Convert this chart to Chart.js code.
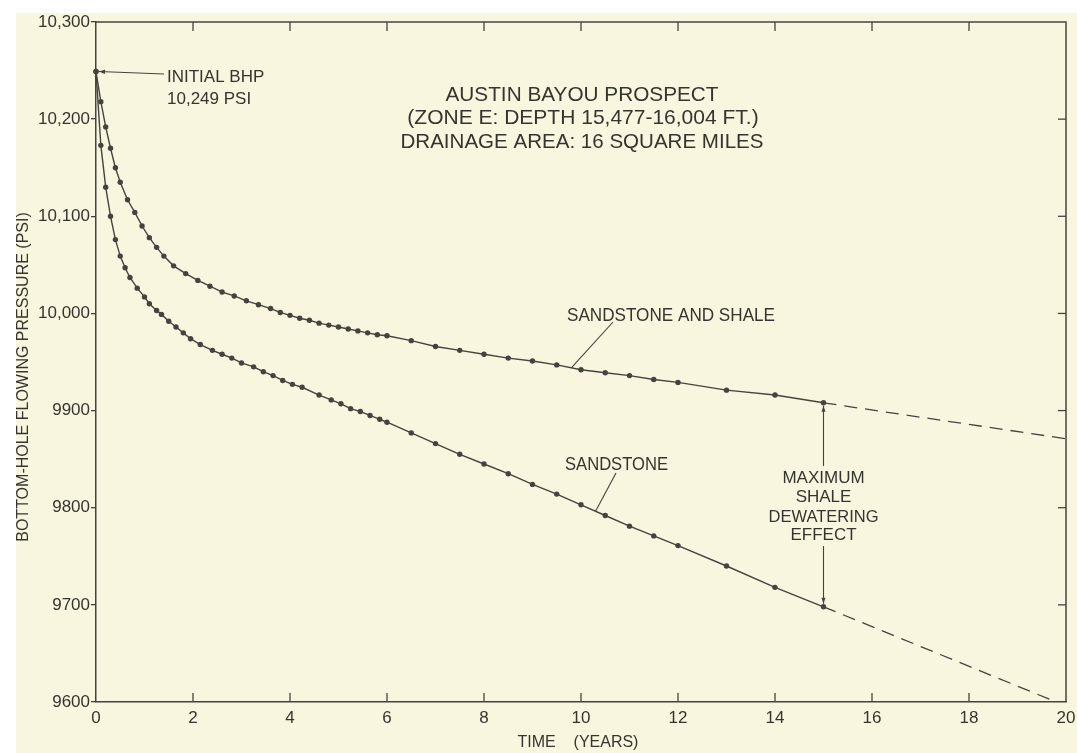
<!DOCTYPE html>
<html><head><meta charset="utf-8">
<script src="https://cdn.jsdelivr.net/npm/chart.js@4/dist/chart.umd.min.js"></script>
<style>html,body{margin:0;padding:0;background:#fff;}canvas{display:block;}</style>
</head><body>
<canvas id="c" width="1077" height="753"></canvas>
<script>
// ---- data ----
const shaleTimes = [0, 0.1, 0.2, 0.3, 0.4, 0.5, 0.65, 0.8, 0.95, 1.1, 1.25, 1.4, 1.6, 1.85, 2.1, 2.35, 2.6, 2.85, 3.1, 3.35, 3.6, 3.8, 4.0, 4.2, 4.4, 4.6, 4.8, 5.0, 5.2, 5.4, 5.6, 5.8, 6.0, 6.5, 7.0, 7.5, 8.0, 8.5, 9.0, 9.5, 10.0, 10.5, 11.0, 11.5, 12.0, 13.0, 14.0, 15.0];
const shalePsi = [10249, 10218, 10192, 10170, 10150, 10135, 10117, 10104, 10090, 10078, 10068, 10059, 10049, 10041, 10034, 10028, 10022, 10018, 10013, 10009, 10005, 10001, 9998, 9995, 9993, 9990, 9988, 9986, 9984, 9982, 9980, 9978, 9977, 9972, 9966, 9962, 9958, 9954, 9951, 9947, 9942, 9939, 9936, 9932, 9929, 9921, 9916, 9908];
const sandTimes = [0, 0.1, 0.2, 0.3, 0.4, 0.5, 0.6, 0.7, 0.85, 1.0, 1.1, 1.25, 1.35, 1.5, 1.65, 1.8, 1.95, 2.15, 2.4, 2.6, 2.8, 3.0, 3.25, 3.45, 3.65, 3.85, 4.05, 4.25, 4.6, 4.85, 5.05, 5.25, 5.45, 5.65, 5.85, 6.0, 6.5, 7.0, 7.5, 8.0, 8.5, 9.0, 9.5, 10.0, 10.5, 11.0, 11.5, 12.0, 13.0, 14.0, 15.0];
const sandPsi = [10249, 10173, 10130, 10100, 10076, 10059, 10047, 10037, 10026, 10017, 10010, 10003, 9999, 9992, 9986, 9980, 9974, 9968, 9962, 9958, 9954, 9949, 9945, 9940, 9936, 9931, 9927, 9924, 9916, 9911, 9907, 9902, 9899, 9895, 9891, 9888, 9877, 9866, 9855, 9845, 9835, 9824, 9814, 9803, 9792, 9781, 9771, 9761, 9740, 9718, 9698];
const shaleProjTimes = [15, 20];
const shaleProjPsi = [9908, 9871];
const sandProjTimes = [15, 19.8];
const sandProjPsi = [9698, 9600];
const xTickValues = [0, 2, 4, 6, 8, 10, 12, 14, 16, 18, 20];
const xTickLabels = ['0', '2', '4', '6', '8', '10', '12', '14', '16', '18', '20'];
const yTickValues = [9600, 9700, 9800, 9900, 10000, 10100, 10200, 10300];
const yTickLabels = ['9600', '9700', '9800', '9900', '10,000', '10,100', '10,200', '10,300'];
const titleLines = ['AUSTIN BAYOU PROSPECT', '(ZONE E: DEPTH 15,477-16,004 FT.)', 'DRAINAGE AREA: 16 SQUARE MILES'];
const initialLines = ['INITIAL BHP', '10,249 PSI'];
const dewaterLines = ['MAXIMUM', 'SHALE', 'DEWATERING', 'EFFECT'];
const shaleLabel = 'SANDSTONE AND SHALE';
const sandLabel = 'SANDSTONE';
const xTitle = 'TIME    (YEARS)';
const yTitle = 'BOTTOM-HOLE FLOWING PRESSURE (PSI)';

// ---- styling ----
const INK = '#45433e';
const TXT = '#36342e';
const FONT = '"Liberation Sans", Arial, sans-serif';

function pts(ts, ps) { return ts.map((t, i) => ({x: t, y: ps[i]})); }
function interp(ts, ps, t) {
  for (let i = 1; i < ts.length; i++) {
    if (t <= ts[i]) { const f = (t - ts[i-1]) / (ts[i] - ts[i-1]); return ps[i-1] + f * (ps[i] - ps[i-1]); }
  }
  return ps[ps.length - 1];
}
function line(ctx, x1, y1, x2, y2) { ctx.beginPath(); ctx.moveTo(x1, y1); ctx.lineTo(x2, y2); ctx.stroke(); }
function arrow(ctx, x1, y1, x2, y2, head = 6, w = 2.2) {
  line(ctx, x1, y1, x2, y2);
  const a = Math.atan2(y2 - y1, x2 - x1);
  ctx.beginPath(); ctx.moveTo(x2, y2);
  ctx.lineTo(x2 - head * Math.cos(a) + w * Math.sin(a), y2 - head * Math.sin(a) - w * Math.cos(a));
  ctx.lineTo(x2 - head * Math.cos(a) - w * Math.sin(a), y2 - head * Math.sin(a) + w * Math.cos(a));
  ctx.closePath(); ctx.fill();
}
function text(ctx, s, x, y, size, align, maxW) {
  ctx.font = size + 'px ' + FONT; ctx.textAlign = align; ctx.textBaseline = 'middle';
  if (maxW) ctx.fillText(s, x, y, maxW); else ctx.fillText(s, x, y);
}

const decor = {
  id: 'decor',
  beforeDraw(chart) {
    const ctx = chart.ctx; ctx.save();
    ctx.fillStyle = '#ffffff'; ctx.fillRect(0, 0, chart.width, chart.height);
    ctx.fillStyle = '#f9f6df'; ctx.fillRect(16, 13, chart.width - 16, chart.height - 13);
    ctx.restore();
  },
  afterDraw(chart) {
    const ctx = chart.ctx, ca = chart.chartArea, xs = chart.scales.x, ys = chart.scales.y;
    ctx.save();
    ctx.strokeStyle = INK; ctx.fillStyle = INK; ctx.lineWidth = 1.5;
    // top & right frame
    ctx.beginPath(); ctx.moveTo(ca.left, ca.top); ctx.lineTo(ca.right, ca.top); ctx.lineTo(ca.right, ca.bottom); ctx.stroke();
    // inward ticks
    ctx.lineWidth = 1.3;
    xTickValues.forEach(v => {
      if (v <= xs.min || v >= xs.max) return;
      const px = xs.getPixelForValue(v);
      line(ctx, px, ca.bottom, px, ca.bottom - 9);
      line(ctx, px, ca.top, px, ca.top + 9);
    });
    yTickValues.forEach(v => {
      if (v <= ys.min || v >= ys.max) return;
      const py = ys.getPixelForValue(v);
      line(ctx, ca.right, py, ca.right - 8, py);
    });
    // initial BHP leader
    ctx.lineWidth = 1.1;
    arrow(ctx, 164, 74, xs.getPixelForValue(0) + 3, ys.getPixelForValue(shalePsi[0]));
    // curve label leaders
    line(ctx, 613, 322, xs.getPixelForValue(9.8), ys.getPixelForValue(interp(shaleTimes, shalePsi, 9.8)));
    line(ctx, 616, 473, xs.getPixelForValue(10.3), ys.getPixelForValue(interp(sandTimes, sandPsi, 10.3)));
    // dewatering arrows
    const tx = xs.getPixelForValue(15);
    arrow(ctx, tx, 466, tx, ys.getPixelForValue(shalePsi[shalePsi.length - 1]) + 3, 6, 2);
    arrow(ctx, tx, 546, tx, ys.getPixelForValue(sandPsi[sandPsi.length - 1]) - 3, 6, 2);
    // texts
    ctx.fillStyle = TXT;
    text(ctx, initialLines[0], 167, 77, 17, 'left', 110);
    text(ctx, initialLines[1], 167, 99, 17, 'left', 87);
    text(ctx, titleLines[0], 582, 95, 21, 'center', 273);
    text(ctx, titleLines[1], 583, 118, 21, 'center', 373);
    text(ctx, titleLines[2], 582, 142, 21, 'center', 363);
    text(ctx, shaleLabel, 567, 316, 18, 'left', 208);
    text(ctx, sandLabel, 565, 465, 18, 'left', 103);
    const dw = [85, 57, 110, 66], dy = [478, 497, 517, 535];
    dewaterLines.forEach((s, i) => text(ctx, s, tx, dy[i], 17, 'center', dw[i]));
    // axis titles
    text(ctx, xTitle, 578, 743, 16, 'center', 138);
    ctx.save(); ctx.translate(24, 377); ctx.rotate(-Math.PI / 2);
    text(ctx, yTitle, 0, 0, 16, 'center', 360);
    ctx.restore();
    ctx.restore();
  }
};

const lineStyle = {borderColor: INK, borderWidth: 1.4, pointRadius: 2.7, pointBackgroundColor: INK, pointBorderWidth: 0, tension: 0, clip: false, fill: false};
const projStyle = {borderColor: INK, borderWidth: 1.3, pointRadius: 0, borderDash: [13, 8], tension: 0, fill: false};

new Chart(document.getElementById('c'), {
  type: 'line',
  data: {
    datasets: [
      Object.assign({label: 'Sandstone and shale', data: pts(shaleTimes, shalePsi)}, lineStyle),
      Object.assign({label: 'Sandstone', data: pts(sandTimes, sandPsi)}, lineStyle),
      Object.assign({label: 'Sandstone and shale (projected)', data: pts(shaleProjTimes, shaleProjPsi)}, projStyle),
      Object.assign({label: 'Sandstone (projected)', data: pts(sandProjTimes, sandProjPsi)}, projStyle)
    ]
  },
  options: {
    responsive: false, animation: false,
    layout: {padding: {top: 22, right: 11, left: 0, bottom: 0}},
    plugins: {legend: {display: false}, tooltip: {enabled: false}},
    scales: {
      x: {
        type: 'linear', min: 0, max: 20,
        afterFit: s => { s.height = 51; s.paddingLeft = 0; s.paddingRight = 0; },
        afterBuildTicks: s => { s.ticks = xTickValues.map(v => ({value: v})); },
        ticks: {callback: v => xTickLabels[xTickValues.indexOf(v)], color: TXT, font: {family: FONT, size: 17}, padding: 6, maxRotation: 0, autoSkip: false},
        grid: {drawOnChartArea: false, drawTicks: false},
        border: {display: true, color: INK, width: 1.5}
      },
      y: {
        type: 'linear', min: 9600, max: 10300,
        afterFit: s => { s.width = 96; s.paddingTop = 0; s.paddingBottom = 0; },
        afterBuildTicks: s => { s.ticks = yTickValues.map(v => ({value: v})); },
        ticks: {callback: v => yTickLabels[yTickValues.indexOf(v)], color: TXT, font: {family: FONT, size: 17}, padding: 1},
        grid: {drawOnChartArea: false, drawTicks: true, tickLength: 5, color: INK, lineWidth: 1.3},
        border: {display: true, color: INK, width: 1.5}
      }
    }
  },
  plugins: [decor]
});
</script>
</body></html>
